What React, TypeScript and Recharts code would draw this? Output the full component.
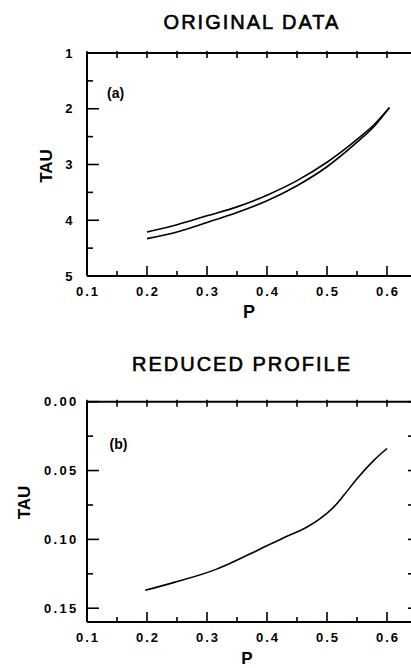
import React from 'react';
import { LineChart, Line, XAxis, YAxis } from 'recharts';

// ---- data ----
const titleA = 'ORIGINAL DATA';
const titleB = 'REDUCED PROFILE';
const xLabel = 'P';
const yLabel = 'TAU';
const panelA = '(a)';
const panelB = '(b)';

const pA = [0.2, 0.25, 0.3, 0.35, 0.4, 0.45, 0.5, 0.55, 0.58, 0.604];
const tauA1 = [4.21, 4.08, 3.92, 3.76, 3.55, 3.29, 2.96, 2.55, 2.27, 1.98];
const tauA2 = [4.33, 4.21, 4.04, 3.86, 3.65, 3.38, 3.04, 2.6, 2.3, 1.98];

const pB = [0.197, 0.244, 0.316, 0.338, 0.383, 0.427, 0.466, 0.488, 0.511, 0.528, 0.55, 0.578, 0.6];
const tauB = [0.137, 0.1314, 0.1216, 0.1175, 0.1082, 0.099, 0.0912, 0.0851, 0.0766, 0.068, 0.0559, 0.0426, 0.034];

const xTicks = [0.1, 0.15, 0.2, 0.25, 0.3, 0.35, 0.4, 0.45, 0.5, 0.55, 0.6];
const yTicksA = [1, 1.5, 2, 2.5, 3, 3.5, 4, 4.5, 5];
const yTicksB = [0, 0.025, 0.05, 0.075, 0.1, 0.125, 0.15];

const dataA = pA.map((p, i) => ({ p, t1: tauA1[i], t2: tauA2[i] }));
const dataB = pB.map((p, i) => ({ p, t: tauB[i] }));

const FONT = '"Liberation Sans", Arial, Helvetica, sans-serif';

const isMult = (v: number, step: number) => Math.abs(v / step - Math.round(v / step)) < 1e-6;

const BottomTick = (props: any) => {
  const { x, y, payload } = props;
  const v = payload.value as number;
  const major = isMult(v, 0.1);
  return (
    <g>
      <line x1={x} y1={y} x2={x} y2={y - (major ? 10 : 5)} stroke="#000" strokeWidth={1.6} />
      {major && (
        <text x={x + 1} y={y + 20} textAnchor="middle" fontFamily={FONT} fontWeight="bold" fontSize={13} letterSpacing={2} fill="#000">
          {v.toFixed(1)}
        </text>
      )}
    </g>
  );
};

const TopTick = (props: any) => {
  const { x, y } = props;
  return <line x1={x} y1={y - 2} x2={x} y2={y + 5} stroke="#000" strokeWidth={1.6} />;
};

const makeLeftTick = (step: number, digits: number, gap: number, spacing: number) => (props: any) => {
  const { x, y, payload } = props;
  const v = payload.value as number;
  const major = isMult(v, step);
  return (
    <g>
      <line x1={x} y1={y} x2={x + (major ? 12 : 6)} y2={y} stroke="#000" strokeWidth={1.6} />
      {major && (
        <text x={x - gap} y={y + 4.5} textAnchor="end" fontFamily={FONT} fontWeight="bold" fontSize={13} letterSpacing={spacing} fill="#000">
          {v.toFixed(digits)}
        </text>
      )}
    </g>
  );
};

const LeftTickA = makeLeftTick(1, 0, 14.5, 0);
const LeftTickB = makeLeftTick(0.05, 2, 8.5, 2.3);

const RightTick = (props: any) => {
  const { x, y } = props;
  return <line x1={x} y1={y} x2={x - 9} y2={y} stroke="#000" strokeWidth={1.6} />;
};

const axisLine = { stroke: '#000', strokeWidth: 2 };

export default function App() {
  return (
    <div style={{ position: 'fixed', left: 0, top: 0, width: 411, height: 668, overflow: 'hidden', background: '#fff' }}>
      <div style={{ position: 'absolute', left: 0, top: 0 }}>
        <LineChart width={430} height={320} data={dataA} margin={{ top: 43, right: 13, left: 0, bottom: 14 }}>
          <XAxis xAxisId="b" dataKey="p" type="number" domain={[0.1, 0.65]} ticks={xTicks} interval={0} allowDataOverflow
            height={30} tickSize={0} tickMargin={0} tickLine={false} axisLine={axisLine} tick={BottomTick} />
          <XAxis xAxisId="t" orientation="top" dataKey="p" type="number" domain={[0.1, 0.65]} ticks={xTicks} interval={0} allowDataOverflow
            height={10} tickSize={0} tickMargin={0} tickLine={false} axisLine={axisLine} tick={TopTick} />
          <YAxis yAxisId="l" type="number" domain={[1, 5]} reversed ticks={yTicksA} interval={0} allowDataOverflow
            width={87} tickSize={0} tickMargin={0} tickLine={false} axisLine={axisLine} tick={LeftTickA} />
          <Line xAxisId="b" yAxisId="l" dataKey="t1" type="monotone" stroke="#000" strokeWidth={1.6} dot={false} isAnimationActive={false} />
          <Line xAxisId="b" yAxisId="l" dataKey="t2" type="monotone" stroke="#000" strokeWidth={1.6} dot={false} isAnimationActive={false} />
        </LineChart>
      </div>
      <div style={{ position: 'absolute', left: 0, top: 330 }}>
        <LineChart width={430} height={338} data={dataB} margin={{ top: 61.7, right: 3, left: 0, bottom: 16 }}>
          <XAxis xAxisId="b" dataKey="p" type="number" domain={[0.1, 0.65]} ticks={xTicks} interval={0} allowDataOverflow
            height={30} tickSize={0} tickMargin={0} tickLine={false} axisLine={axisLine} tick={BottomTick} />
          <XAxis xAxisId="t" orientation="top" dataKey="p" type="number" domain={[0.1, 0.65]} ticks={xTicks} interval={0} allowDataOverflow
            height={10} tickSize={0} tickMargin={0} tickLine={false} axisLine={axisLine} tick={TopTick} />
          <YAxis yAxisId="l" type="number" domain={[0, 0.16]} reversed ticks={yTicksB} interval={0} allowDataOverflow
            width={87} tickSize={0} tickMargin={0} tickLine={false} axisLine={axisLine} tick={LeftTickB} />
          <YAxis yAxisId="r" orientation="right" type="number" domain={[0, 0.16]} reversed ticks={yTicksB} interval={0} allowDataOverflow
            width={10} tickSize={0} tickMargin={0} tickLine={false} axisLine={axisLine} tick={RightTick} />
          <Line xAxisId="b" yAxisId="l" dataKey="t" type="monotone" stroke="#000" strokeWidth={1.6} dot={false} isAnimationActive={false} />
        </LineChart>
      </div>
      <svg width={411} height={668} style={{ position: 'absolute', left: 0, top: 0, pointerEvents: 'none' }}>
        <g fontFamily={FONT} fill="#000">
          <text x={252} y={29} textAnchor="middle" fontSize={20} letterSpacing={2} stroke="#000" strokeWidth={0.6}>{titleA}</text>
          <text transform="translate(51.5,166) rotate(-90)" textAnchor="middle" fontSize={17} fontWeight="bold">{yLabel}</text>
          <text x={107} y={98} fontSize={14} fontWeight="bold">{panelA}</text>
          <text x={249} y={318} textAnchor="middle" fontSize={18} fontWeight="bold">{xLabel}</text>

          <text x={242} y={371} textAnchor="middle" fontSize={20} letterSpacing={2} stroke="#000" strokeWidth={0.6}>{titleB}</text>
          <text transform="translate(29.5,502.5) rotate(-90)" textAnchor="middle" fontSize={17} fontWeight="bold">{yLabel}</text>
          <text x={109.5} y={449} fontSize={14} fontWeight="bold">{panelB}</text>
          <text x={247} y={664} textAnchor="middle" fontSize={17} fontWeight="bold">{xLabel}</text>
        </g>
      </svg>
    </div>
  );
}
